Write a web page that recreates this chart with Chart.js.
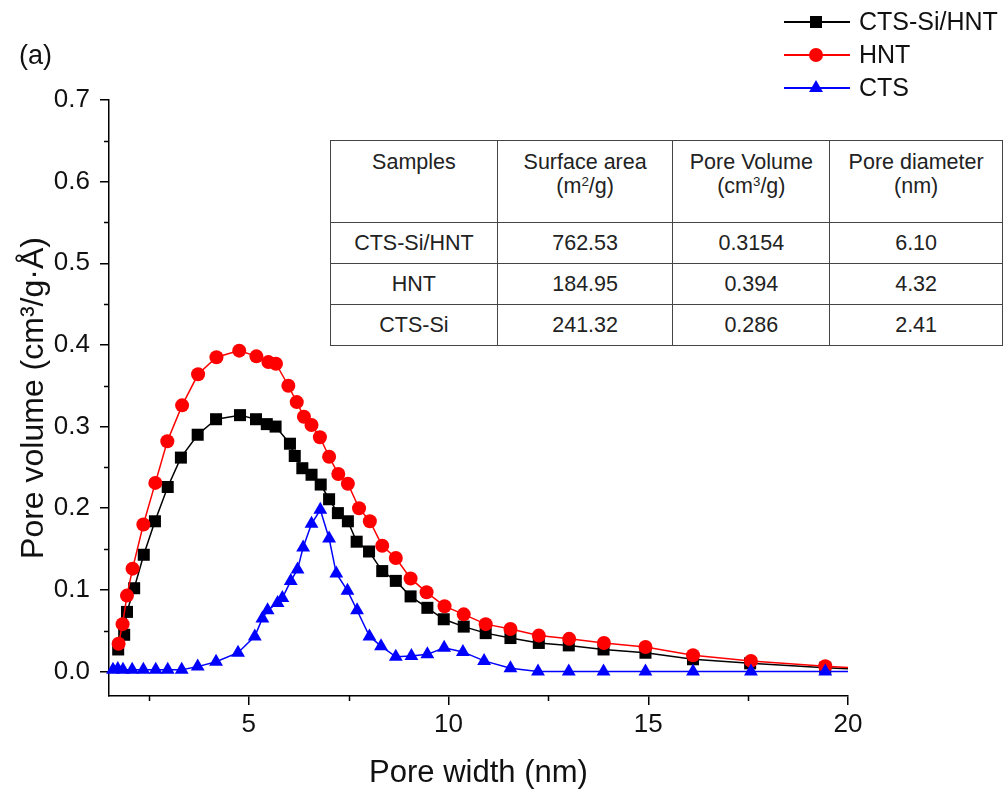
<!DOCTYPE html>
<html>
<head>
<meta charset="utf-8">
<script src="https://cdn.jsdelivr.net/npm/chart.js@4.4.0/dist/chart.umd.min.js"></script>
<style>
  html, body { margin: 0; padding: 0; background: #fff; }
  #wrap { position: relative; width: 1006px; height: 792px; font-family: Arial, "Liberation Sans", sans-serif; color: #111; }
  #chart { position: absolute; left: 0; top: 0; }
  #tag { position: absolute; left: 19px; top: 40px; font-size: 27px; }
  #info { position: absolute; left: 330px; top: 140px; width: 673px; height: 206px; border-collapse: collapse; font-size: 21.5px; background: #fff; color: #222; }
  #info td { border: 1.5px solid #444; text-align: center; padding: 0; line-height: 24px; }
  #info tr.head td { vertical-align: top; padding-top: 9px; }
  #info sup { font-size: 0.62em; vertical-align: 0.5em; line-height: 0; }
</style>
</head>
<body>
<div id="wrap">
  <canvas id="chart" width="1006" height="792"></canvas>
  <div id="tag">(a)</div>
  <table id="info"></table>
</div>
<script>
// pore size distribution
const widthCtsSiHnt = [1.73, 1.88, 1.95, 2.13, 2.37, 2.65, 2.97, 3.30, 3.72, 4.18, 4.78, 5.18, 5.45, 5.67, 6.03, 6.15, 6.34, 6.57, 6.80, 7.01, 7.23, 7.48, 7.70, 8.01, 8.34, 8.68, 9.05, 9.47, 9.88, 10.38, 10.93, 11.55, 12.26, 13.01, 13.88, 14.93, 16.12, 17.55, 19.43, 20.6];
const volumeCtsSiHnt = [0.027, 0.045, 0.073, 0.102, 0.143, 0.184, 0.226, 0.262, 0.290, 0.309, 0.314, 0.309, 0.303, 0.300, 0.279, 0.264, 0.249, 0.241, 0.229, 0.211, 0.194, 0.184, 0.159, 0.147, 0.123, 0.111, 0.092, 0.078, 0.064, 0.055, 0.047, 0.041, 0.035, 0.032, 0.027, 0.023, 0.015, 0.010, 0.0045, 0.002];

const widthHnt = [1.74, 1.84, 1.95, 2.09, 2.36, 2.66, 2.96, 3.33, 3.73, 4.19, 4.76, 5.19, 5.49, 5.68, 5.99, 6.20, 6.38, 6.57, 6.78, 7.01, 7.24, 7.48, 7.76, 8.03, 8.34, 8.68, 9.05, 9.45, 9.90, 10.38, 10.93, 11.55, 12.26, 13.02, 13.89, 14.93, 16.12, 17.57, 19.43, 20.6];
const volumeHnt = [0.034, 0.058, 0.093, 0.126, 0.180, 0.231, 0.282, 0.326, 0.364, 0.385, 0.393, 0.386, 0.379, 0.377, 0.350, 0.330, 0.312, 0.302, 0.287, 0.263, 0.242, 0.230, 0.200, 0.184, 0.154, 0.139, 0.114, 0.097, 0.080, 0.070, 0.058, 0.052, 0.044, 0.040, 0.035, 0.030, 0.020, 0.013, 0.0065, 0.003];

const widthCts = [1.60, 1.72, 1.85, 2.08, 2.36, 2.67, 2.97, 3.32, 3.72, 4.18, 4.73, 5.15, 5.34, 5.47, 5.72, 5.84, 6.05, 6.22, 6.36, 6.57, 6.79, 7.01, 7.19, 7.47, 7.71, 8.02, 8.31, 8.68, 9.07, 9.47, 9.89, 10.36, 10.89, 11.55, 12.24, 13.01, 13.88, 14.93, 16.12, 17.57, 19.43, 20.6];
const volumeCts = [0.002, 0.003, 0.002, 0.002, 0.002, 0.002, 0.002, 0.002, 0.006, 0.012, 0.023, 0.043, 0.065, 0.075, 0.084, 0.090, 0.111, 0.125, 0.152, 0.181, 0.198, 0.163, 0.120, 0.099, 0.075, 0.043, 0.031, 0.018, 0.019, 0.021, 0.029, 0.024, 0.013, 0.004, 0, 0, 0, 0, 0, 0, 0, 0];

const seriesNames = ['CTS-Si/HNT', 'HNT', 'CTS'];

const xMajorTicks = [5, 10, 15, 20];
const xMinorTicks = [2.5, 7.5, 12.5, 17.5];
const yMajorTicks = [0, 0.1, 0.2, 0.3, 0.4, 0.5, 0.6, 0.7];
const yMinorTicks = [0.05, 0.15, 0.25, 0.35, 0.45, 0.55, 0.65];

// inset table
const tableHead = ['Samples', 'Surface area<br>(m<sup>2</sup>/g)', 'Pore Volume<br>(cm<sup>3</sup>/g)', 'Pore diameter<br>(nm)'];
const tableSamples = ['CTS-Si/HNT', 'HNT', 'CTS-Si'];
const surfaceArea = ['762.53', '184.95', '241.32'];
const poreVolume = ['0.3154', '0.394', '0.286'];
const poreDiameter = ['6.10', '4.32', '2.41'];

const FONT = 'Arial, "Liberation Sans", sans-serif';
Chart.defaults.font.family = FONT;
Chart.defaults.color = '#111';

const toPoints = (xs, ys) => xs.map((x, i) => ({ x: x, y: ys[i] }));

const styles = [
    { color: '#000000', shape: 'rect', r: 8.5 },
    { color: '#ff0000', shape: 'circle', r: 7 },
    { color: '#0000ff', shape: 'triangle', r: 8 },
];

function buildTable() {
    const t = document.getElementById('info');
    const widths = [167, 176, 157, 173];
    let html = '<tr class="head" style="height:82px">' + tableHead.map((h, i) => `<td style="width:${widths[i]}px">${h}</td>`).join('') + '</tr>';
    tableSamples.forEach((s, i) => {
        html += `<tr style="height:41px"><td>${s}</td><td>${surfaceArea[i]}</td><td>${poreVolume[i]}</td><td>${poreDiameter[i]}</td></tr>`;
    });
    t.innerHTML = html;
}

function drawMarker(ctx, shape, x, y, r) {
    ctx.beginPath();
    if (shape === 'rect') {
        const s = Math.SQRT1_2 * r;
        ctx.rect(x - s, y - s, 2 * s, 2 * s);
    } else if (shape === 'circle') {
        ctx.arc(x, y, r, 0, Math.PI * 2);
    } else {
        ctx.moveTo(x, y - r);
        ctx.lineTo(x + r * Math.sin(Math.PI * 2 / 3), y + r / 2);
        ctx.lineTo(x - r * Math.sin(Math.PI * 2 / 3), y + r / 2);
        ctx.closePath();
    }
    ctx.fill();
}

const extras = {
    id: 'extras',
    afterDraw(chart) {
        const ctx = chart.ctx;
        const xs = chart.scales.x, ys = chart.scales.y;
        ctx.save();
        ctx.strokeStyle = '#000';
        ctx.lineWidth = 1.5;
        ctx.beginPath();
        xMinorTicks.forEach(v => {
            const px = Math.round(xs.getPixelForValue(v)) + 0.5;
            ctx.moveTo(px, xs.top);
            ctx.lineTo(px, xs.top + 5);
        });
        yMinorTicks.forEach(v => {
            const py = Math.round(ys.getPixelForValue(v)) + 0.5;
            ctx.moveTo(ys.right, py);
            ctx.lineTo(ys.right - 5, py);
        });
        ctx.stroke();

        // legend, top right
        ctx.font = '25px ' + FONT;
        ctx.textBaseline = 'middle';
        seriesNames.forEach((name, i) => {
            const st = styles[i];
            const y = 22 + i * 33;
            ctx.strokeStyle = st.color;
            ctx.fillStyle = st.color;
            ctx.lineWidth = 2;
            ctx.beginPath();
            ctx.moveTo(784, y);
            ctx.lineTo(850, y);
            ctx.stroke();
            drawMarker(ctx, st.shape, 816, y, st.r);
            ctx.fillStyle = '#111';
            ctx.fillText(name, 859, y + 1);
        });
        ctx.restore();
    }
};

function makeSet(i, xs, ys, order) {
    const st = styles[i];
    return {
        label: seriesNames[i],
        data: toPoints(xs, ys),
        borderColor: st.color,
        backgroundColor: st.color,
        borderWidth: 1.5,
        pointStyle: st.shape,
        pointRadius: st.r,
        pointHoverRadius: st.r,
        pointBorderWidth: 0,
        pointBackgroundColor: st.color,
        tension: 0,
        order: order,
        clip: { left: 20, top: 20, right: 0, bottom: 20 },
    };
}

buildTable();

new Chart(document.getElementById('chart').getContext('2d'), {
    type: 'line',
    data: {
        datasets: [
            makeSet(0, widthCtsSiHnt, volumeCtsSiHnt, 2),
            makeSet(1, widthHnt, volumeHnt, 1),
            makeSet(2, widthCts, volumeCts, 0),
        ]
    },
    options: {
        responsive: false,
        animation: false,
        events: [],
        layout: { padding: { left: 0, top: 100, right: 158, bottom: 0 } },
        plugins: { legend: { display: false }, tooltip: { enabled: false } },
        scales: {
            x: {
                type: 'linear',
                min: 1.5,
                max: 20,
                afterBuildTicks: s => { s.ticks = xMajorTicks.map(v => ({ value: v })); },
                afterFit: s => { s.height = 96; },
                ticks: { font: { size: 26 }, color: '#111', padding: 4, maxRotation: 0, callback: v => String(v) },
                grid: { drawOnChartArea: false, drawTicks: true, tickLength: 9, color: '#000', lineWidth: 1.5 },
                border: { display: true, color: '#000', width: 1.5 },
                title: { display: true, text: 'Pore width (nm)', font: { size: 31 }, color: '#111', padding: { top: 0, bottom: 0 } },
            },
            y: {
                type: 'linear',
                min: -0.03,
                max: 0.7,
                afterBuildTicks: s => { s.ticks = yMajorTicks.map(v => ({ value: v })); },
                afterFit: s => { s.width = 109; },
                ticks: { font: { size: 26 }, color: '#111', padding: 10, callback: v => v.toFixed(1) },
                grid: { drawOnChartArea: false, drawTicks: true, tickLength: 9, color: '#000', lineWidth: 1.5 },
                border: { display: true, color: '#000', width: 1.5 },
                title: { display: true, text: 'Pore volume (cm³/g·Å)', font: { size: 32 }, color: '#111', padding: { top: 15, bottom: 0 } },
            }
        }
    },
    plugins: [extras]
});
</script>
</body>
</html>
